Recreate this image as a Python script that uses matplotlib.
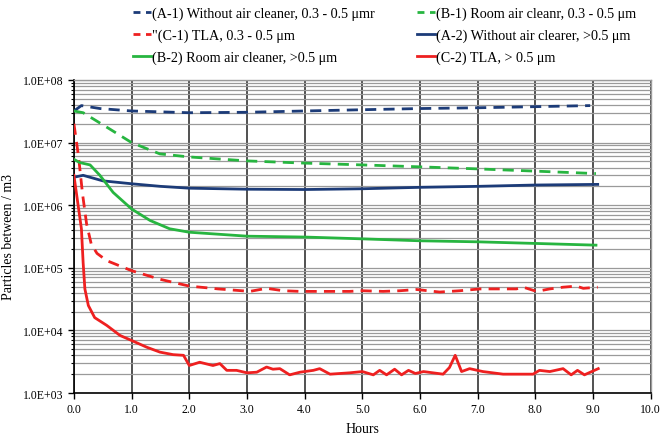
import matplotlib
matplotlib.use("Agg")
import matplotlib.pyplot as plt
from matplotlib.ticker import FixedLocator, LogLocator, NullFormatter, FuncFormatter
from matplotlib.lines import Line2D

plt.rcParams['font.family'] = ['Liberation Serif', 'DejaVu Serif']

# ---- data ----
a1_hours = [0, 0.13, 0.45, 1.0, 2.0, 3.0, 4.0, 5.0, 6.0, 7.0, 8.0, 8.95]
a1_vals = [3.2e7, 3.9e7, 3.5e7, 3.2e7, 3.0e7, 3.05e7, 3.2e7, 3.35e7, 3.5e7, 3.6e7, 3.75e7, 3.9e7]

b1_hours = [0, 0.16, 0.62, 1.0, 1.49, 2.0, 3.0, 4.0, 5.0, 6.0, 7.0, 8.0, 9.05]
b1_vals = [3.2e7, 3.0e7, 1.65e7, 1.0e7, 6.6e6, 5.9e6, 5.1e6, 4.7e6, 4.4e6, 4.1e6, 3.8e6, 3.5e6, 3.2e6]

c1_hours = [0, 0.08, 0.15, 0.22, 0.3, 0.4, 0.57, 1.0, 1.48, 2.0, 2.5, 3.05, 3.34, 3.63,
            3.92, 4.2, 4.49, 4.78, 5.0, 5.36, 5.65, 5.94, 6.34, 6.69, 7.04, 7.38, 7.67,
            7.79, 8.02, 8.25, 8.48, 8.71, 8.83, 9.08]
c1_vals = [2.0e7, 6.0e6, 1.5e6, 5.0e5, 2.4e5, 1.7e5, 1.3e5, 9.0e4, 6.6e4, 5.1e4, 4.6e4, 4.2e4,
           4.7e4, 4.3e4, 4.2e4, 4.2e4, 4.2e4, 4.2e4, 4.3e4, 4.2e4, 4.3e4, 4.5e4, 4.1e4, 4.3e4,
           4.6e4, 4.6e4, 4.6e4, 4.9e4, 4.2e4, 4.6e4, 4.9e4, 5.1e4, 4.7e4, 4.9e4]

a2_hours = [0, 0.16, 0.5, 1.0, 1.5, 2.0, 3.0, 4.0, 5.0, 6.0, 7.0, 8.0, 9.08]
a2_vals = [2.8e6, 3.0e6, 2.45e6, 2.2e6, 2.0e6, 1.87e6, 1.8e6, 1.78e6, 1.83e6, 1.93e6, 2.0e6, 2.1e6, 2.15e6]

b2_hours = [0, 0.1, 0.28, 0.45, 0.68, 1.0, 1.32, 1.66, 2.0, 3.0, 4.0, 5.0, 6.0, 7.0, 8.0, 9.05]
b2_vals = [5.4e6, 4.8e6, 4.4e6, 3.0e6, 1.6e6, 8.7e5, 5.7e5, 4.2e5, 3.7e5, 3.2e5, 3.1e5,
           2.9e5, 2.7e5, 2.6e5, 2.45e5, 2.3e5]

c2_hours = [0, 0.13, 0.16, 0.19, 0.25, 0.36, 0.57, 0.8, 1.0, 1.26, 1.49, 1.72, 1.9, 2.0,
            2.18, 2.41, 2.53, 2.65, 2.82, 3.0, 3.17, 3.34, 3.45, 3.57, 3.74, 3.92, 4.15,
            4.26, 4.44, 4.78, 5.0, 5.19, 5.3, 5.42, 5.56, 5.68, 5.8, 5.92, 6.06, 6.4, 6.51,
            6.61, 6.72, 6.86, 7.09, 7.44, 7.96, 8.07, 8.25, 8.48, 8.62, 8.73, 8.85, 9.09]
c2_vals = [3.0e6, 4.2e5, 1.2e5, 4.6e4, 2.5e4, 1.6e4, 1.2e4, 8.3e3, 6.9e3, 5.4e3, 4.5e3,
           4.1e3, 4.0e3, 2.75e3, 3.1e3, 2.75e3, 2.95e3, 2.3e3, 2.3e3, 2.1e3, 2.15e3, 2.6e3,
           2.4e3, 2.45e3, 1.95e3, 2.15e3, 2.3e3, 2.45e3, 2.0e3, 2.1e3, 2.2e3, 1.95e3, 2.3e3,
           1.95e3, 2.4e3, 1.95e3, 2.3e3, 2.05e3, 2.2e3, 2.0e3, 2.55e3, 4.0e3, 2.2e3, 2.45e3,
           2.2e3, 2.0e3, 2.0e3, 2.3e3, 2.2e3, 2.45e3, 1.95e3, 2.3e3, 1.95e3, 2.45e3]

labels = ['(A-1) Without air cleaner, 0.3 - 0.5 \u03bcmr',
          '(B-1) Room air cleanr, 0.3 - 0.5 \u03bcm',
          '"(C-1) TLA, 0.3 - 0.5 \u03bcm',
          '(A-2) Without air clearer, >0.5 \u03bcm',
          '(B-2) Room air cleaner, >0.5 \u03bcm',
          '(C-2) TLA, > 0.5 \u03bcm']

x_ticks = [0, 1, 2, 3, 4, 5, 6, 7, 8, 9, 10]
y_ticks = [1e3, 1e4, 1e5, 1e6, 1e7, 1e8]
y_tick_labels = ['1.0E+03', '1.0E+04', '1.0E+05', '1.0E+06', '1.0E+07', '1.0E+08']

# ---- styling ----
NAVY = '#1c3b78'
GREEN = '#27b540'
RED = '#ee2020'
LW = 2.0
DASH = (4, 2.6)

fig = plt.figure(figsize=(6.6, 4.39), dpi=100)
ax = fig.add_axes([0.112, 0.1025, 0.874, 0.713])

ax.plot(a1_hours, a1_vals, color=NAVY, lw=LW, dashes=DASH, zorder=5)
ax.plot(b1_hours, b1_vals, color=GREEN, lw=LW, dashes=DASH, zorder=5)
ax.plot(c1_hours, c1_vals, color=RED, lw=LW, dashes=DASH, zorder=5)
ax.plot(a2_hours, a2_vals, color=NAVY, lw=LW, zorder=5)
ax.plot(b2_hours, b2_vals, color=GREEN, lw=LW, zorder=5)
ax.plot(c2_hours, c2_vals, color=RED, lw=LW, zorder=5)

ax.set_yscale('log')
ax.set_xlim(0, 10)
ax.set_ylim(1e3, 1e8)
ax.xaxis.set_major_locator(FixedLocator(x_ticks))
ax.xaxis.set_major_formatter(FuncFormatter(lambda v, p: f'{v:.1f}'))
ax.yaxis.set_major_locator(FixedLocator(y_ticks))
ax.set_yticklabels(y_tick_labels)
ax.yaxis.set_minor_locator(LogLocator(base=10, subs=range(2, 10)))
ax.yaxis.set_minor_formatter(NullFormatter())

ax.grid(True, axis='x', which='major', color='#222222', lw=1.1, zorder=1)
ax.grid(True, axis='y', which='both', color='#9a9a9a', lw=0.9, zorder=1)

ax.tick_params(axis='both', which='major', labelsize=8.5, direction='out', length=4, width=1, colors='black')
ax.tick_params(axis='y', which='minor', direction='out', length=2.5, width=0.8)
for s in ['left', 'bottom']:
    ax.spines[s].set_color('black')
    ax.spines[s].set_linewidth(1.2)
for s in ['top', 'right']:
    ax.spines[s].set_color('#9a9a9a')
    ax.spines[s].set_linewidth(1.0)

ax.set_xlabel('Hours', fontsize=10, labelpad=5)
ax.set_ylabel('Particles between / m3', fontsize=10, labelpad=6)

LDASH = (2.5, 2.0)
handles = [Line2D([], [], color=NAVY, lw=LW, dashes=LDASH),
           Line2D([], [], color=RED, lw=LW, dashes=LDASH),
           Line2D([], [], color=GREEN, lw=LW),
           Line2D([], [], color=GREEN, lw=LW, dashes=LDASH),
           Line2D([], [], color=NAVY, lw=LW),
           Line2D([], [], color=RED, lw=LW)]
leg_labels = [labels[0], labels[2], labels[4], labels[1], labels[3], labels[5]]
fig.legend(handles, leg_labels, ncol=2, loc='upper left', bbox_to_anchor=(0.182, 1.012),
           frameon=False, fontsize=10.2, handlelength=1.25, handletextpad=0.1,
           columnspacing=3.0, labelspacing=0.6)

fig.savefig('out.png', dpi=100)
